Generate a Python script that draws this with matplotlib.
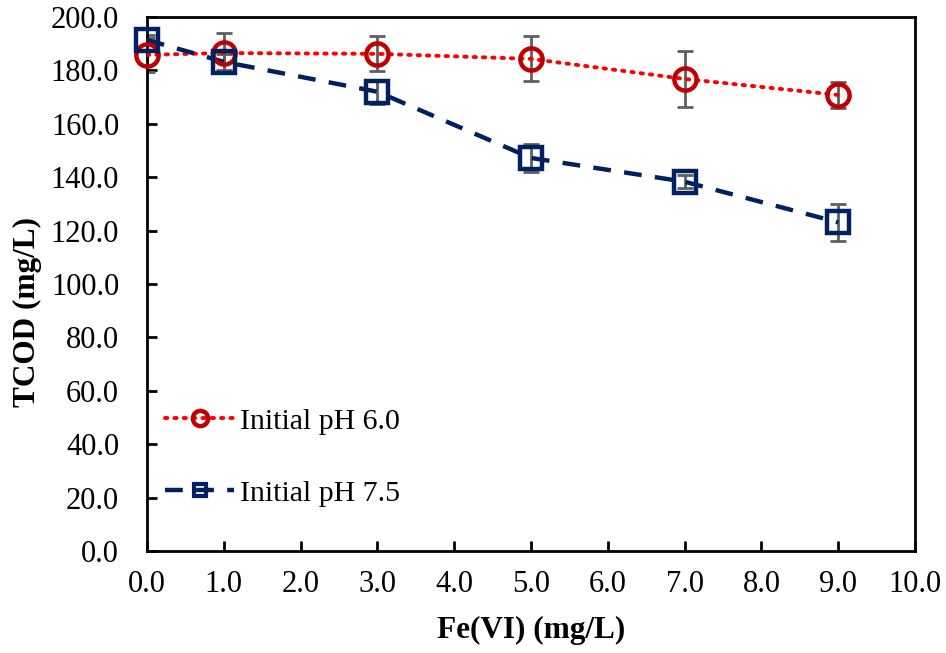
import numpy as np
import matplotlib
matplotlib.use("Agg")
from matplotlib import pyplot as plt

# Dados ----------------------------->>>>>
fe_vi = [0.0, 1.0, 3.0, 5.0, 7.0, 9.0]

tcod_ph60 = [185.8, 186.5, 186.2, 184.3, 176.8, 170.8]
erro_ph60 = [6.5, 7.5, 6.5, 8.4, 10.5, 5.0]

tcod_ph75 = [191.4, 183.2, 172.0, 147.2, 138.3, 123.1]
erro_ph75 = [2.0, 3.0, 4.5, 5.4, 2.5, 7.0]

x_ticks = np.arange(0, 11, 1)
y_ticks = np.arange(0, 201, 20)

plt.rcParams['font.family'] = ['Liberation Serif', 'DejaVu Serif']

fig = plt.figure(figsize=(9.46, 6.53), dpi=100)
ax = fig.add_axes([0.1554, 0.1562, 0.8118, 0.8178])

# pH 6.0
ax.errorbar(fe_vi, tcod_ph60, yerr=erro_ph60, fmt='none', ecolor='#5f5f5f',
            elinewidth=2, capsize=6, capthick=2, zorder=2)
ax.plot(fe_vi, tcod_ph60, linestyle=(0, (0.6, 1.8)), color='#ff0000', linewidth=2.8,
        dash_capstyle='round', zorder=3)
ax.plot(fe_vi, tcod_ph60, linestyle='none', marker='o', markersize=16,
        markerfacecolor='none', markeredgecolor='#c00000', markeredgewidth=3.2,
        clip_on=False, zorder=4)

# pH 7.5
ax.errorbar(fe_vi, tcod_ph75, yerr=erro_ph75, fmt='none', ecolor='#5f5f5f',
            elinewidth=2, capsize=6, capthick=2, zorder=2)
ax.plot(fe_vi, tcod_ph75, linestyle=(0, (4, 3)), color='#002060', linewidth=3.2,
        zorder=3)
ax.plot(fe_vi, tcod_ph75, linestyle='none', marker='s', markersize=15.5,
        markerfacecolor='none', markeredgecolor='#002060', markeredgewidth=3.2,
        clip_on=False, zorder=4)

# Legenda (handles proprios)
h1, = ax.plot([], [], linestyle=(0, (0.6, 1.8)), color='#ff0000', linewidth=2.8,
              dash_capstyle='round', marker='o', markersize=11,
              markerfacecolor='none', markeredgecolor='#c00000', markeredgewidth=3.2)
h2, = ax.plot([], [], linestyle=(0, (4, 3)), color='#002060', linewidth=3.2,
              marker='s', markersize=9, markerfacecolor='none',
              markeredgecolor='#002060', markeredgewidth=3)
ax.legend([h1, h2], ['Initial pH 6.0', 'Initial pH 7.5'], loc='lower left',
          bbox_to_anchor=(-0.011, 0.033), frameon=False, fontsize=21.5,
          handlelength=2.3, handletextpad=0.2, labelspacing=1.5, numpoints=1)

ax.set_xlim(0, 10)
ax.set_ylim(0, 200)
ax.set_xticks(x_ticks)
ax.set_yticks(y_ticks)
ax.set_xticklabels([f'{v:.1f}' for v in x_ticks])
ax.set_yticklabels([f'{v:.1f}' for v in y_ticks])
ax.tick_params(direction='in', length=7, width=2, labelsize=22)
ax.tick_params(axis='x', pad=14)
ax.tick_params(axis='y', pad=20)

for s in ax.spines.values():
    s.set_linewidth(2)

ax.set_xlabel('Fe(VI) (mg/L)', fontsize=22.5, fontweight='bold', labelpad=12)
ax.set_ylabel('TCOD (mg/L)', fontsize=22.5, fontweight='bold')
ax.yaxis.set_label_coords(-0.137, 0.448)

fig.savefig('out.png', dpi=100)
